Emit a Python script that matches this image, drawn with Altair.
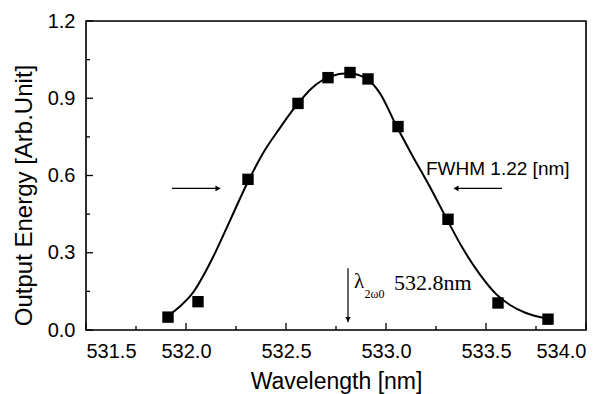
import altair as alt
import pandas as pd

# measured points (squares)
wavelength = [531.91, 532.06, 532.31, 532.56, 532.71, 532.82, 532.91, 533.06, 533.31, 533.56, 533.81]
energy = [0.05, 0.11, 0.585, 0.88, 0.98, 1.0, 0.975, 0.79, 0.43, 0.105, 0.042]

# fitted curve
fit_wl = [531.90, 531.96, 532.03, 532.13, 532.22, 532.30, 532.38, 532.47, 532.55, 532.63,
          532.72, 532.81, 532.90, 532.97, 533.05, 533.13, 533.22, 533.30, 533.38, 533.47,
          533.55, 533.62, 533.70, 533.80]
fit_energy = [0.048, 0.085, 0.14, 0.275, 0.425, 0.56, 0.68, 0.785, 0.87, 0.94,
              0.984, 0.997, 0.977, 0.919, 0.796, 0.68, 0.555, 0.437, 0.322, 0.215,
              0.14, 0.097, 0.066, 0.045]

x_major = [531.5, 532.0, 532.5, 533.0, 533.5, 534.0]
x_minor = [531.75, 532.25, 532.75, 533.25, 533.75]
y_major = [0.0, 0.3, 0.6, 0.9, 1.2]
y_minor = [0.15, 0.45, 0.75, 1.05]

# annotations
arrow_x1 = [531.93, 533.58]
arrow_x2 = [532.17, 533.34]
arrow_y = [0.55, 0.55]
head_x = [532.16, 533.35]
head_shape = ["triangle-right", "triangle-left"]
lambda_x = [532.81]
lambda_y1 = [0.24]
lambda_y2 = [0.03]
fwhm_label = ["FWHM 1.22 [nm]"]
fwhm_x = [533.20]
fwhm_y = [0.602]
lam_label = ["λ"]
lam_x = [532.84]
lam_y = [0.163]
sub_label = ["2ω0"]
sub_x = [532.893]
sub_y = [0.124]
center_label = ["532.8nm"]
center_x = [533.04]
center_y = [0.155]

W, H = 500, 309
SANS = "Liberation Sans, Arial, Helvetica, sans-serif"
SERIF = "Liberation Serif, Times New Roman, serif"

xs = alt.Scale(domain=[531.5, 534.0], nice=False, zero=False)
ys = alt.Scale(domain=[0.0, 1.2], nice=False, zero=False)

pts = pd.DataFrame({"x": wavelength, "y": energy})
fit = pd.DataFrame({"x": fit_wl, "y": fit_energy})

x_axis = alt.Axis(values=x_major, format=".1f", title="Wavelength [nm]", ticks=False,
                  domain=False, grid=False, labelPadding=11, labelFontSize=20,
                  titleFontSize=23, titleY=58, titleBaseline="alphabetic",
                  titleFontWeight="normal")
y_axis = alt.Axis(values=y_major, format=".1f", title="Output Energy [Arb.Unit]", ticks=False,
                  domain=False, grid=False, labelPadding=11, labelFontSize=20,
                  titleFontSize=24, titleX=-62, titleY=174, titleAngle=-90,
                  titleAlign="center", titleBaseline="middle", titleFontWeight="normal")

curve = alt.Chart(fit).mark_line(color="black", strokeWidth=2, interpolate="monotone").encode(
    x=alt.X("x:Q", scale=xs, axis=x_axis),
    y=alt.Y("y:Q", scale=ys, axis=y_axis),
)
squares = alt.Chart(pts).mark_square(color="black", size=130, opacity=1).encode(
    x=alt.X("x:Q", scale=xs), y=alt.Y("y:Q", scale=ys))

frame = alt.Chart(pd.DataFrame({"a": [0]})).mark_rect(
    fill=None, stroke="black", strokeWidth=1.6).encode(
    x=alt.value(0), x2=alt.value(W), y=alt.value(0), y2=alt.value(H))

def xticks(vals, length):
    return alt.Chart(pd.DataFrame({"v": vals})).mark_rule(color="black", strokeWidth=1.3).encode(
        x=alt.X("v:Q", scale=xs), y=alt.value(H), y2=alt.value(H - length))

def yticks(vals, length):
    return alt.Chart(pd.DataFrame({"v": vals})).mark_rule(color="black", strokeWidth=1.3).encode(
        y=alt.Y("v:Q", scale=ys), x=alt.value(0), x2=alt.value(length))

arrows = alt.Chart(pd.DataFrame({"x1": arrow_x1, "x2": arrow_x2, "y": arrow_y})).mark_rule(
    color="black", strokeWidth=1.2).encode(
    x=alt.X("x1:Q", scale=xs), x2="x2:Q", y=alt.Y("y:Q", scale=ys))
heads = alt.Chart(pd.DataFrame({"x": head_x, "y": arrow_y, "s": head_shape})).mark_point(
    color="black", filled=True, size=35, opacity=1).encode(
    x=alt.X("x:Q", scale=xs), y=alt.Y("y:Q", scale=ys),
    shape=alt.Shape("s:N", scale=None, legend=None))
vline = alt.Chart(pd.DataFrame({"x": lambda_x, "y1": lambda_y1, "y2": lambda_y2})).mark_rule(
    color="black", strokeWidth=1.2).encode(
    x=alt.X("x:Q", scale=xs), y=alt.Y("y1:Q", scale=ys), y2="y2:Q")
vhead = alt.Chart(pd.DataFrame({"x": lambda_x, "y": lambda_y2})).mark_point(
    color="black", filled=True, size=30, opacity=1, shape="triangle-down", yOffset=-3).encode(
    x=alt.X("x:Q", scale=xs), y=alt.Y("y:Q", scale=ys))

def label(texts, xv, yv, font, size):
    return alt.Chart(pd.DataFrame({"x": xv, "y": yv, "t": texts})).mark_text(
        align="left", baseline="alphabetic", font=font, fontSize=size, color="black").encode(
        x=alt.X("x:Q", scale=xs), y=alt.Y("y:Q", scale=ys), text="t:N")

chart = alt.layer(
    curve, squares, frame,
    xticks(x_major, 7), xticks(x_minor, 4), yticks(y_major, 7), yticks(y_minor, 4),
    arrows, heads, vline, vhead,
    label(fwhm_label, fwhm_x, fwhm_y, SANS, 19),
    label(lam_label, lam_x, lam_y, SERIF, 21),
    label(sub_label, sub_x, sub_y, SERIF, 12),
    label(center_label, center_x, center_y, SERIF, 22),
).properties(
    width=W, height=H,
    autosize=alt.AutoSizeParams(type="none"),
    padding={"left": 78, "top": 13, "right": 18, "bottom": 64},
).configure_view(
    stroke=None
).configure_axis(
    labelFont=SANS, titleFont=SANS, labelColor="black", titleColor="black"
).configure(background="white")

chart.save("out.html", embed_options={"renderer": "svg", "actions": False})
